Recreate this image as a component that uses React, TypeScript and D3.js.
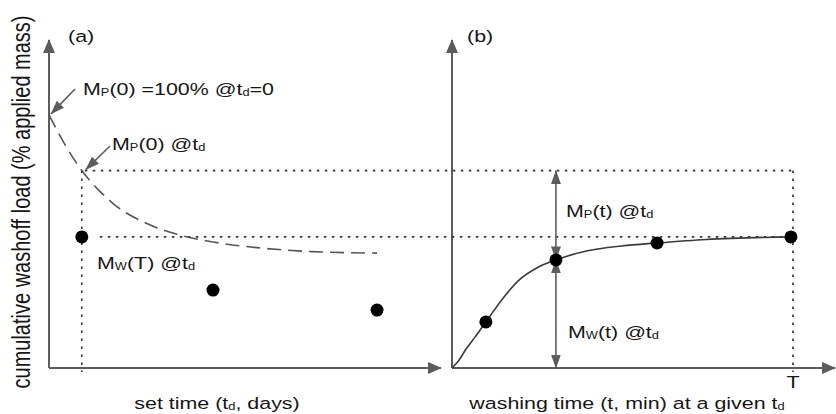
import React from 'react';
import * as d3 from 'd3';

// panel (a): set time (days) vs % applied mass
const setDays = [1, 5, 10];
const washoffAtT = [51.8, 30.8, 22.9];
const decayDays = [0, 0.5, 1, 1.5, 2, 3, 4, 5, 6, 7, 8, 9, 10];
const decayLoad = [100, 88, 78, 70.5, 64.5, 57, 52.5, 49.8, 48, 46.8, 46, 45.6, 45.4];

// panel (b): washing time (min) at a given td
const washMin = [6, 18.4, 36.3, 60];
const washLoad = [18.2, 42.7, 49.4, 51.8];
const curveMin = [0, 1.2, 2.5, 4, 6, 9, 12, 15, 18.4, 24, 30, 36.3, 45, 60];
const curveLoad = [0, 3, 7.5, 12, 18.2, 27.5, 35, 39.5, 42.7, 46.3, 48.2, 49.4, 50.8, 51.8];

const tdValue = 1; // the chosen set time
const mpAtTd = 78; // MP(0) @ td
const bigT = 60;

const W = 836, H = 414;
const SX = 1.26; // the picture is stretched sideways
const ink = '#161616';
const axisCol = '#5c5c5c';
const font = 'Arial, "Liberation Sans", sans-serif';

type Part = [string, boolean?];

const Txt = ({ x, y, parts, size = 17, anchor = 'start' }: { x: number; y: number; parts: Part[]; size?: number; anchor?: string }) => {
  let shifted = false;
  return (
    <text transform={`translate(${x},${y}) scale(${SX},1)`} fontSize={size} fontFamily={font} fill={ink} textAnchor={anchor}>
      {parts.map(([s, sub], i) => {
        let dy = 0;
        if (sub && !shifted) { dy = 1; shifted = true; }
        else if (!sub && shifted) { dy = -1; shifted = false; }
        return (
          <tspan key={i} dy={dy} fontSize={sub ? size * 0.6 : size}>{s}</tspan>
        );
      })}
    </text>
  );
};

const App = () => {
  const y = d3.scaleLinear().domain([0, 129.6]).range([368, 40]);
  const xA = d3.scaleLinear().domain([0, 11.95]).range([49, 441]);
  const xB = d3.scaleLinear().domain([0, 67.8]).range([452, 835]);

  const decayLine = d3.line<number>()
    .x((_, i) => xA(decayDays[i]))
    .y(d => y(d))
    .curve(d3.curveMonotoneX);
  const washLine = d3.line<number>()
    .x((_, i) => xB(curveMin[i]))
    .y(d => y(d))
    .curve(d3.curveMonotoneX);

  const dotted = { stroke: '#333', strokeWidth: 1.6, strokeDasharray: '2.5 5.5', fill: 'none' };
  const belowAxis = y(-1.6);
  const tX = xB(bigT) + 2;

  return (
    <svg width={W} height={H} style={{ position: 'absolute', left: 0, top: 0, background: '#fff' }}>
      <defs>
        <marker id="axHead" markerUnits="userSpaceOnUse" viewBox="0 0 14 12" refX="13" refY="6" markerWidth="14" markerHeight="12" orient="auto">
          <path d="M0,0 L14,6 L0,12 Z" fill={axisCol} />
        </marker>
        <marker id="head" markerUnits="userSpaceOnUse" viewBox="0 0 14 10" refX="13.5" refY="5" markerWidth="14" markerHeight="10" orient="auto-start-reverse">
          <path d="M0,0 L14,5 L0,10 Z" fill={axisCol} />
        </marker>
      </defs>

      {/* axes */}
      <g stroke={axisCol} strokeWidth={2}>
        <line x1={xA(0)} y1={y(0)} x2={xA(0)} y2={y(129.6)} markerEnd="url(#axHead)" />
        <line x1={xA(0)} y1={y(0)} x2={xA(11.95)} y2={y(0)} markerEnd="url(#axHead)" />
        <line x1={xB(0)} y1={y(0)} x2={xB(0)} y2={y(129.6)} markerEnd="url(#axHead)" />
        <line x1={xB(0)} y1={y(0)} x2={xB(67.8)} y2={y(0)} markerEnd="url(#axHead)" />
      </g>

      {/* dotted guides */}
      <line x1={xA(tdValue)} y1={y(mpAtTd)} x2={xA(tdValue)} y2={belowAxis} {...dotted} />
      <line x1={xA(tdValue) + 3} y1={y(mpAtTd)} x2={tX} y2={y(mpAtTd)} {...dotted} />
      <line x1={tX} y1={y(mpAtTd)} x2={tX} y2={belowAxis} {...dotted} />
      <line x1={xA(1.55)} y1={y(washLoad[3])} x2={xB(bigT)} y2={y(washLoad[3])} {...dotted} />

      {/* decay of MP(0) with set time */}
      <path d={decayLine(decayLoad) || ''} fill="none" stroke="#555" strokeWidth={1.6} strokeDasharray="14 7" />
      {/* washoff curve */}
      <path d={washLine(curveLoad) || ''} fill="none" stroke="#3a3a3a" strokeWidth={1.6} />

      {/* double arrows at t */}
      <g stroke={axisCol} strokeWidth={1.6}>
        <line x1={xB(washMin[1])} y1={y(mpAtTd)} x2={xB(washMin[1])} y2={y(washLoad[1])} markerStart="url(#head)" markerEnd="url(#head)" />
        <line x1={xB(washMin[1])} y1={y(washLoad[1])} x2={xB(washMin[1])} y2={y(0)} markerStart="url(#head)" markerEnd="url(#head)" />
        {/* annotation pointers */}
        <line x1={75} y1={89} x2={xA(0) + 2} y2={y(100) - 1} markerEnd="url(#head)" />
        <line x1={110} y1={146} x2={xA(tdValue) + 4} y2={y(mpAtTd) - 1} markerEnd="url(#head)" />
      </g>

      {/* dots */}
      {setDays.map((d, i) => (
        <circle key={'a' + i} cx={xA(d)} cy={y(washoffAtT[i])} r={6.5} fill="#000" />
      ))}
      {washMin.map((d, i) => (
        <circle key={'b' + i} cx={xB(d)} cy={y(washLoad[i])} r={6.5} fill="#000" />
      ))}

      {/* texts */}
      <Txt x={68} y={42} parts={[['(a)']]} />
      <Txt x={467} y={42} parts={[['(b)']]} />
      <Txt x={83} y={95} parts={[['M'], ['P', true], ['(0) =100% @t'], ['d', true], ['=0']]} />
      <Txt x={112} y={150} parts={[['M'], ['P', true], ['(0) @t'], ['d', true]]} />
      <Txt x={97} y={269} parts={[['M'], ['W', true], ['(T) @t'], ['d', true]]} />
      <Txt x={566} y={217} parts={[['M'], ['P', true], ['(t) @t'], ['d', true]]} />
      <Txt x={568} y={338} parts={[['M'], ['W', true], ['(t) @t'], ['d', true]]} />
      <Txt x={793} y={388} anchor="middle" parts={[['T']]} />
      <Txt x={217} y={409} anchor="middle" parts={[['set time (t'], ['d', true], [', days)']]} />
      <Txt x={627} y={409} anchor="middle" parts={[['washing time (t, min) at a given t'], ['d', true]]} />
      <text transform={`translate(30,202) scale(${SX},1) rotate(-90)`} fontSize={20} fontFamily={font} fill={ink} textAnchor="middle">
        cumulative washoff load (% applied mass)
      </text>
    </svg>
  );
};

export default App;
